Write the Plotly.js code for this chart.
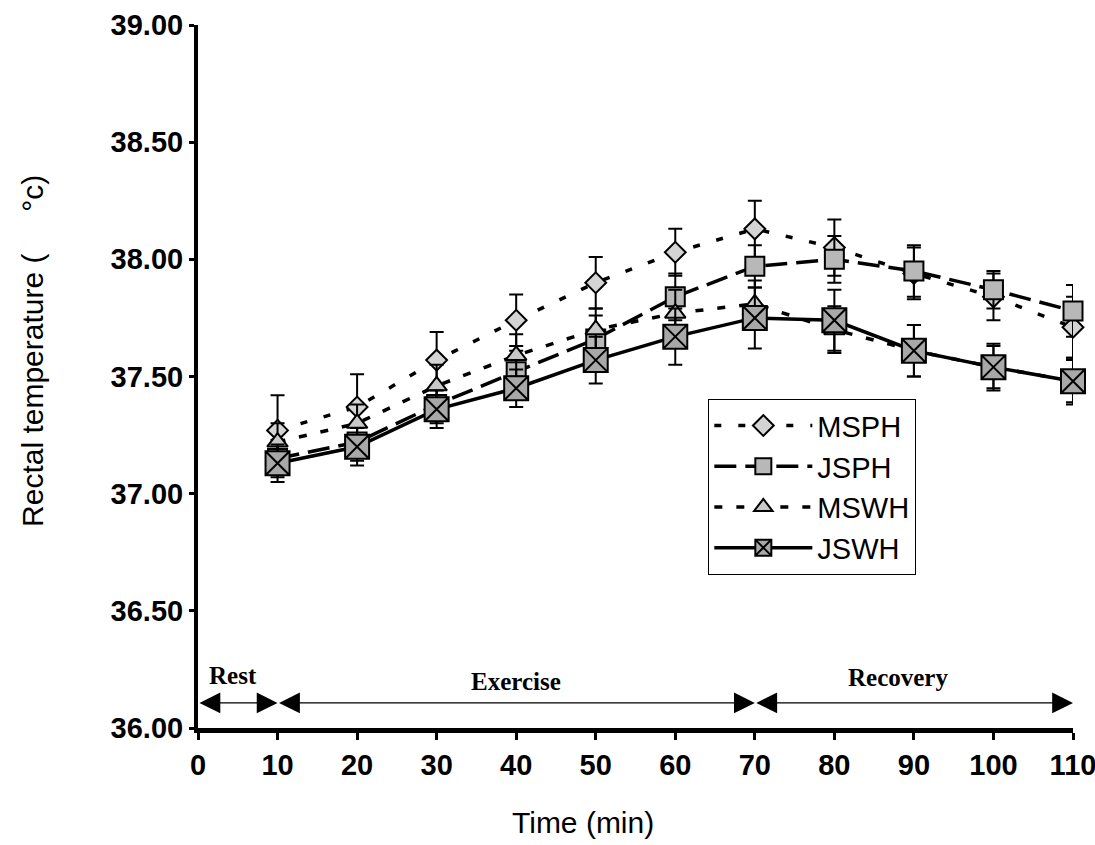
<!DOCTYPE html>
<html>
<head>
<meta charset="utf-8">
<script src="https://cdn.plot.ly/plotly-3.0.1.min.js"></script>
<style>html,body{margin:0;padding:0;background:#fff;}#chart{width:1095px;height:845px;}</style>
</head>
<body>
<div id="chart"></div>
<script>
// ---- data ----
const time = [10, 20, 30, 40, 50, 60, 70, 80, 90, 100, 110];

const MSPH = [37.27, 37.37, 37.57, 37.74, 37.90, 38.03, 38.13, 38.05, 37.94, 37.84, 37.71];
const JSPH = [37.15, 37.22, 37.38, 37.52, 37.66, 37.84, 37.97, 38.00, 37.95, 37.87, 37.78];
const MSWH = [37.22, 37.30, 37.46, 37.59, 37.70, 37.77, 37.81, 37.70, 37.61, 37.54, 37.48];
const JSWH = [37.13, 37.20, 37.36, 37.45, 37.57, 37.67, 37.75, 37.74, 37.61, 37.54, 37.48];

const MSPH_sd = [0.15, 0.14, 0.12, 0.11, 0.11, 0.10, 0.12, 0.12, 0.11, 0.10, 0.13];
const JSPH_sd = [0.08, 0.08, 0.08, 0.09, 0.10, 0.10, 0.09, 0.10, 0.11, 0.08, 0.11];
const MSWH_sd = [0.08, 0.08, 0.09, 0.09, 0.09, 0.10, 0.10, 0.10, 0.11, 0.10, 0.10];
const JSWH_sd = [0.08, 0.08, 0.08, 0.08, 0.10, 0.12, 0.13, 0.13, 0.11, 0.09, 0.09];

const seriesNames = ['MSPH', 'JSPH', 'MSWH', 'JSWH'];

const xTicks = [0, 10, 20, 30, 40, 50, 60, 70, 80, 90, 100, 110];
const yTicks = [36.0, 36.5, 37.0, 37.5, 38.0, 38.5, 39.0];

const phaseBounds = [0, 10, 70, 110];
const phaseLabels = ['Rest', 'Exercise', 'Recovery'];
const phaseArrowY = 36.107;

// ---- styling ----
const ARIAL = "Arial, 'Liberation Sans', sans-serif";
const TIMES = "'Times New Roman', 'Liberation Serif', serif";
const labelShift = [{x: -5, y: 12}, {x: 0, y: 6}, {x: -16, y: 10}];

function errBar(sd) {
  return {type: 'data', array: sd, visible: true, color: '#000', thickness: 2, width: 7};
}

const styles = {
  MSPH: {y: MSPH, sd: MSPH_sd, dash: '7px,17px', symbol: 'diamond', size: 16, fill: '#d4d4d4'},
  JSPH: {y: JSPH, sd: JSPH_sd, dash: '22px,9px', symbol: 'square', size: 19, fill: '#b8b8b8'},
  MSWH: {y: MSWH, sd: MSWH_sd, dash: '8px,14px', symbol: 'triangle-up', size: 18, fill: '#c8c8c8'},
  JSWH: {y: JSWH, sd: JSWH_sd, dash: 'solid', symbol: 'square-x', size: 24, fill: '#a8a8a8'}
};

const traces = seriesNames.map(name => {
  const s = styles[name];
  return {
    type: 'scatter',
    mode: 'lines+markers',
    name: name,
    x: time,
    y: s.y,
    cliponaxis: false,
    error_y: errBar(s.sd),
    line: {color: '#000', width: 3.5, dash: s.dash},
    marker: {symbol: s.symbol, size: s.size, color: s.fill, line: {color: '#000', width: 2}}
  };
});

const annotations = [];
for (let i = 0; i < phaseLabels.length; i++) {
  annotations.push({
    x: phaseBounds[i + 1], y: phaseArrowY, xref: 'x', yref: 'y',
    ax: phaseBounds[i], ay: phaseArrowY, axref: 'x', ayref: 'y',
    text: '', showarrow: true, arrowside: 'end+start',
    arrowhead: 2, startarrowhead: 2, arrowsize: 3.2, startarrowsize: 3.2,
    arrowwidth: 1.3, arrowcolor: '#000', standoff: 0, startstandoff: 0
  });
  annotations.push({
    x: (phaseBounds[i] + phaseBounds[i + 1]) / 2, y: phaseArrowY, xref: 'x', yref: 'y',
    text: '<b>' + phaseLabels[i] + '</b>', showarrow: false,
    yanchor: 'bottom', yshift: labelShift[i].y, xshift: labelShift[i].x,
    font: {family: TIMES, size: 25, color: '#000'}
  });
}
annotations.push({
  xref: 'paper', yref: 'paper', x: 0.44, y: -0.135,
  text: 'Time (min)', showarrow: false, xanchor: 'center', yanchor: 'middle',
  font: {family: ARIAL, size: 30, color: '#000'}
});
annotations.push({
  xref: 'paper', yref: 'paper', x: -0.19, y: 0.536,
  text: 'Rectal temperature (     \u00b0c)', showarrow: false, textangle: -90,
  xanchor: 'center', yanchor: 'middle',
  font: {family: ARIAL, size: 30, color: '#000'}
});

const layout = {
  width: 1095, height: 845,
  margin: {l: 198, r: 22, t: 25, b: 117},
  paper_bgcolor: '#fff', plot_bgcolor: '#fff',
  showlegend: true,
  legend: {
    x: 0.583, y: 0.468, xanchor: 'left', yanchor: 'top',
    bordercolor: '#000', borderwidth: 1.2, bgcolor: '#fff',
    font: {family: ARIAL, size: 29, color: '#000'},
    itemwidth: 98, tracegroupgap: 0
  },
  xaxis: {
    range: [0, 110], tickmode: 'array', tickvals: xTicks, ticktext: xTicks.map(String),
    showgrid: false, zeroline: false, showline: true, linecolor: '#000', linewidth: 5,
    ticks: 'outside', ticklen: 7, tickwidth: 3, tickcolor: '#000',
    ticklabeloverflow: 'allow',
    tickfont: {family: ARIAL, size: 29, color: '#000', weight: 'bold'}
  },
  yaxis: {
    range: [36, 39], tickmode: 'array', tickvals: yTicks, ticktext: yTicks.map(v => v.toFixed(2)),
    showgrid: false, zeroline: false, showline: true, linecolor: '#000', linewidth: 4,
    ticks: 'outside', ticklen: 5, tickwidth: 3, tickcolor: '#000',
    tickfont: {family: ARIAL, size: 29, color: '#000', weight: 'bold'}
  },
  annotations: annotations
};

Plotly.newPlot('chart', traces, layout, {staticPlot: true, displayModeBar: false});
</script>
</body>
</html>
